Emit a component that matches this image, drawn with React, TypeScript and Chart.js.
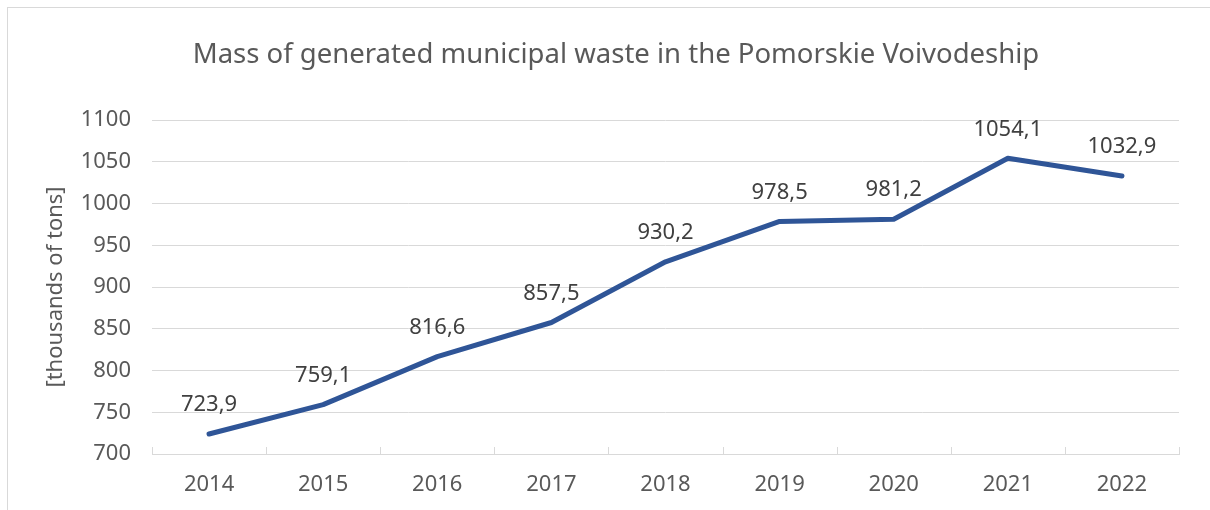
import React, { useEffect, useRef } from "react";
import { Chart, registerables } from "chart.js";

Chart.register(...registerables);

const chartTitle = "Mass of generated municipal waste in the Pomorskie Voivodeship";
const years = ["2014", "2015", "2016", "2017", "2018", "2019", "2020", "2021", "2022"];
const wasteMass = [723.9, 759.1, 816.6, 857.5, 930.2, 978.5, 981.2, 1054.1, 1032.9];
const valueLabels = ["723,9", "759,1", "816,6", "857,5", "930,2", "978,5", "981,2", "1054,1", "1032,9"];
const yMin = 700;
const yMax = 1100;
const yStep = 50;

const FONT = "'Noto Sans', sans-serif";
const GRID = "#D9D9D9";
const TEXT = "#595959";

const extrasPlugin = {
  id: "extras",
  afterDraw(chart: any) {
    const ctx = chart.ctx;
    ctx.save();
    ctx.fillStyle = TEXT;
    ctx.font = `27.5px ${FONT}`;
    ctx.textAlign = "center";
    ctx.textBaseline = "middle";
    ctx.fillText(chartTitle, 608, 47);
    ctx.restore();
  },
  afterDatasetsDraw(chart: any) {
    const ctx = chart.ctx;
    const x = chart.scales.x;
    const meta = chart.getDatasetMeta(0);
    ctx.save();
    ctx.strokeStyle = GRID;
    ctx.lineWidth = 1;
    const n = years.length;
    for (let i = 0; i <= n; i++) {
      const px = Math.round(x.left + (i * (x.right - x.left)) / n) + 0.5;
      ctx.beginPath();
      ctx.moveTo(px, x.top);
      ctx.lineTo(px, x.top - 7);
      ctx.stroke();
    }
    ctx.fillStyle = "#404040";
    ctx.font = `22px ${FONT}`;
    ctx.textAlign = "center";
    ctx.textBaseline = "middle";
    meta.data.forEach((pt: any, i: number) => {
      ctx.fillText(valueLabels[i], pt.x, pt.y - 29);
    });
    ctx.restore();
  },
};

export default function App() {
  const ref = useRef<HTMLCanvasElement>(null);
  useEffect(() => {
    if (!ref.current) return;
    const chart = new Chart(ref.current, {
      type: "line",
      data: {
        labels: years,
        datasets: [
          {
            data: wasteMass,
            borderColor: "#2F5597",
            borderWidth: 5,
            pointRadius: 0,
            borderCapStyle: "round",
            borderJoinStyle: "round",
            tension: 0,
          },
        ],
      },
      options: {
        animation: false,
        responsive: false,
        layout: { padding: { left: 0, right: 29, top: 112, bottom: 0 } },
        plugins: {
          legend: { display: false },
          tooltip: { enabled: false },
          title: { display: false },
        },
        scales: {
          x: {
            offset: true,
            grid: { display: false, drawTicks: false },
            border: { display: true, color: GRID, width: 1 },
            ticks: { color: TEXT, font: { family: FONT, size: 22 }, padding: 18, maxRotation: 0 },
            afterFit(scale: any) {
              scale.height = 64;
            },
          },
          y: {
            min: yMin,
            max: yMax,
            ticks: {
              stepSize: yStep,
              color: TEXT,
              font: { family: FONT, size: 22 },
              padding: 21,
              callback: (v: any) => String(v),
            },
            grid: { color: GRID, drawTicks: false, lineWidth: 1 },
            border: { display: false },
            title: {
              display: true,
              text: "[thousands of tons]",
              color: TEXT,
              font: { family: FONT, size: 22 },
              padding: { top: 35, bottom: 0 },
            },
            afterFit(scale: any) {
              scale.width = 144;
            },
          },
        },
      },
      plugins: [extrasPlugin],
    } as any);
    return () => chart.destroy();
  }, []);
  return (
    <div
      style={{
        position: "fixed",
        left: 7,
        top: 7,
        width: 1230,
        height: 530,
        border: "1px solid #D9D9D9",
        background: "#fff",
      }}
    >
      <canvas ref={ref} width={1200} height={510} style={{ display: "block" }} />
    </div>
  );
}
